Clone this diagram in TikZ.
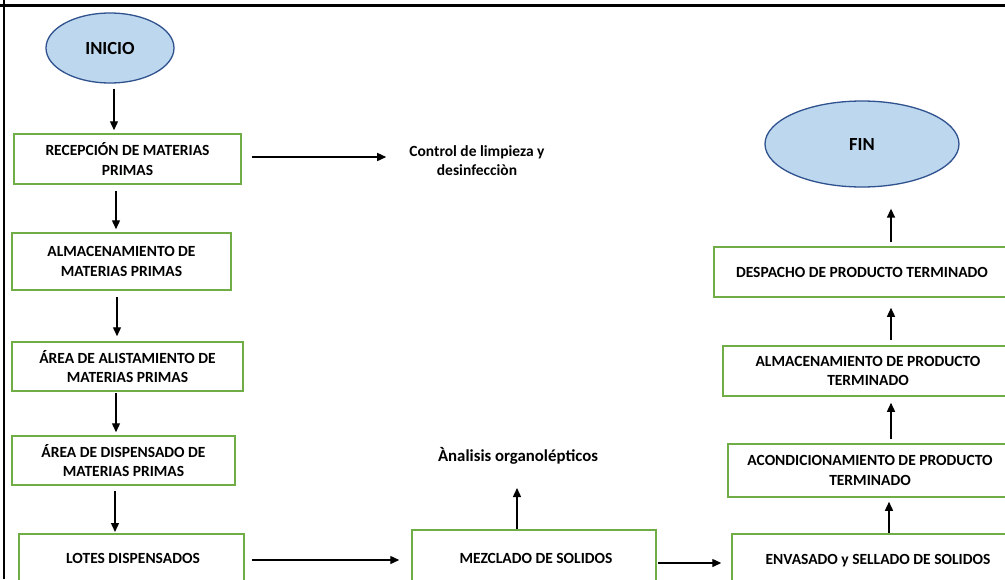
\documentclass[tikz,border=0pt]{standalone}
\usepackage{fontspec}
\setmainfont{Carlito}
\usetikzlibrary{arrows.meta,calc,shapes.geometric}
\definecolor{boxgreen}{HTML}{70AD47}
\definecolor{ellfill}{HTML}{BDD7EE}
\definecolor{elldraw}{HTML}{2F528F}
\begin{document}
\begin{tikzpicture}[x=1pt,y=-1pt,
  box/.style={draw=boxgreen,line width=1.5pt,rectangle,inner sep=0pt,font=\bfseries\fontsize{15.5}{19.5}\selectfont,align=center},
  term/.style={ellipse,draw=elldraw,line width=1.3pt,fill=ellfill,inner sep=0pt,font=\bfseries\fontsize{18.5}{22}\selectfont},
  lbl/.style={font=\bfseries\fontsize{15.5}{19}\selectfont,align=center,inner sep=0pt},
  arr/.style={line width=1.4pt,-{Triangle[length=9pt,width=8pt]}}]
\useasboundingbox (0,0) rectangle (1005,579);
\clip (0,0) rectangle (1005,579);
\fill[white] (0,0) rectangle (1005,579);
% frame lines
\draw[line width=3.3pt] (0,5.7) -- (1005,5.7);
\draw[line width=2pt] (4,0) -- (4,579);
% terminals
\node[term,minimum width=128pt,minimum height=70pt] (ini) at (110,48) {INICIO};
\node[term,minimum width=194pt,minimum height=86pt] (fin) at (862,144) {FIN};
% left column
\node[box,minimum width=227pt,minimum height=50pt] (rec) at (127.5,159) {RECEPCIÓN DE MATERIAS\\PRIMAS};
\node[box,minimum width=219pt,minimum height=57pt] (alm) at (121.5,261.5) {ALMACENAMIENTO DE\\MATERIAS PRIMAS};
\node[box,minimum width=231pt,minimum height=49pt] (ali) at (127.5,366.5) {ÁREA DE ALISTAMIENTO DE\\MATERIAS PRIMAS};
\node[box,minimum width=223pt,minimum height=49pt] (dis) at (123.5,460.5) {ÁREA DE DISPENSADO DE\\MATERIAS PRIMAS};
% bottom row
\node[box,minimum width=225pt,minimum height=70pt,anchor=north] (lot) at (131.5,533) {};
\node[lbl,anchor=base] (lott) at (133,563) {LOTES DISPENSADOS};
\node[box,minimum width=244pt,minimum height=70pt,anchor=north] (mez) at (534,529) {};
\node[lbl,anchor=base] (mezt) at (536,563) {MEZCLADO DE SOLIDOS};
\node[box,minimum width=292pt,minimum height=70pt,anchor=north] (env) at (878,533) {};
\node[lbl,anchor=base] (envt) at (878,564) {ENVASADO y SELLADO DE SOLIDOS};
% right column
\node[box,minimum width=284pt,minimum height=53pt] (aco) at (870,470.5) {ACONDICIONAMIENTO DE PRODUCTO\\TERMINADO};
\node[box,minimum width=290pt,minimum height=50pt] (apt) at (868,371) {ALMACENAMIENTO DE PRODUCTO\\TERMINADO};
\node[box,minimum width=296pt,minimum height=50pt] (des) at (862,272) {DESPACHO DE PRODUCTO TERMINADO};
% free labels
\node[lbl] (ctl) at (477,161) {Control de limpieza y\\desinfecciòn};
\node[lbl,font=\bfseries\fontsize{16.8}{20}\selectfont,anchor=base] (ana) at (518,461) {Ànalisis organolépticos};
% connectors
\coordinate (rs) at ([xshift=10pt,yshift=2pt]rec.east);
\coordinate (ctlin) at ([xshift=-23pt]ctl.west);
\draw[arr] ([xshift=4pt,yshift=-5pt]ini.south) -- ([xshift=-13.5pt,yshift=3pt]rec.north);
\draw[arr] (rs) -- (rs -| ctlin);
\draw[arr] ([xshift=-11.5pt,yshift=-6pt]rec.south) -- ([xshift=-5.5pt,yshift=3pt]alm.north);
\draw[arr] ([xshift=-4.5pt,yshift=-6pt]alm.south) -- ([xshift=-10.5pt,yshift=5pt]ali.north);
\draw[arr] ([xshift=-11.5pt,yshift=-1pt]ali.south) -- ([xshift=-7.5pt,yshift=3pt]dis.north);
\draw[arr] ([xshift=-8.5pt,yshift=-5pt]dis.south) -- ([xshift=-16.5pt,yshift=1pt]lot.north);
\draw[arr] ([xshift=7pt,yshift=-27pt]lot.north east) -- ([xshift=-12pt,yshift=-31pt]mez.north west);
\draw[arr] ([xshift=-17pt]mez.north) -- ([xshift=-1pt,yshift=-27pt]ana.base);
\draw[arr] ([xshift=1pt,yshift=-34pt]mez.north east) -- ([xshift=-10pt,yshift=-30pt]env.north west);
\draw[arr] ([xshift=11pt]env.north) -- ([xshift=19pt,yshift=-4pt]aco.south);
\draw[arr] ([xshift=21pt,yshift=4pt]aco.north) -- ([xshift=23pt,yshift=-6pt]apt.south);
\draw[arr] ([xshift=23pt,yshift=5pt]apt.north) -- ([xshift=29pt,yshift=-10pt]des.south);
\draw[arr] ([xshift=29pt,yshift=4pt]des.north) -- ([xshift=29pt,yshift=-21pt]fin.south);
\end{tikzpicture}
\end{document}
